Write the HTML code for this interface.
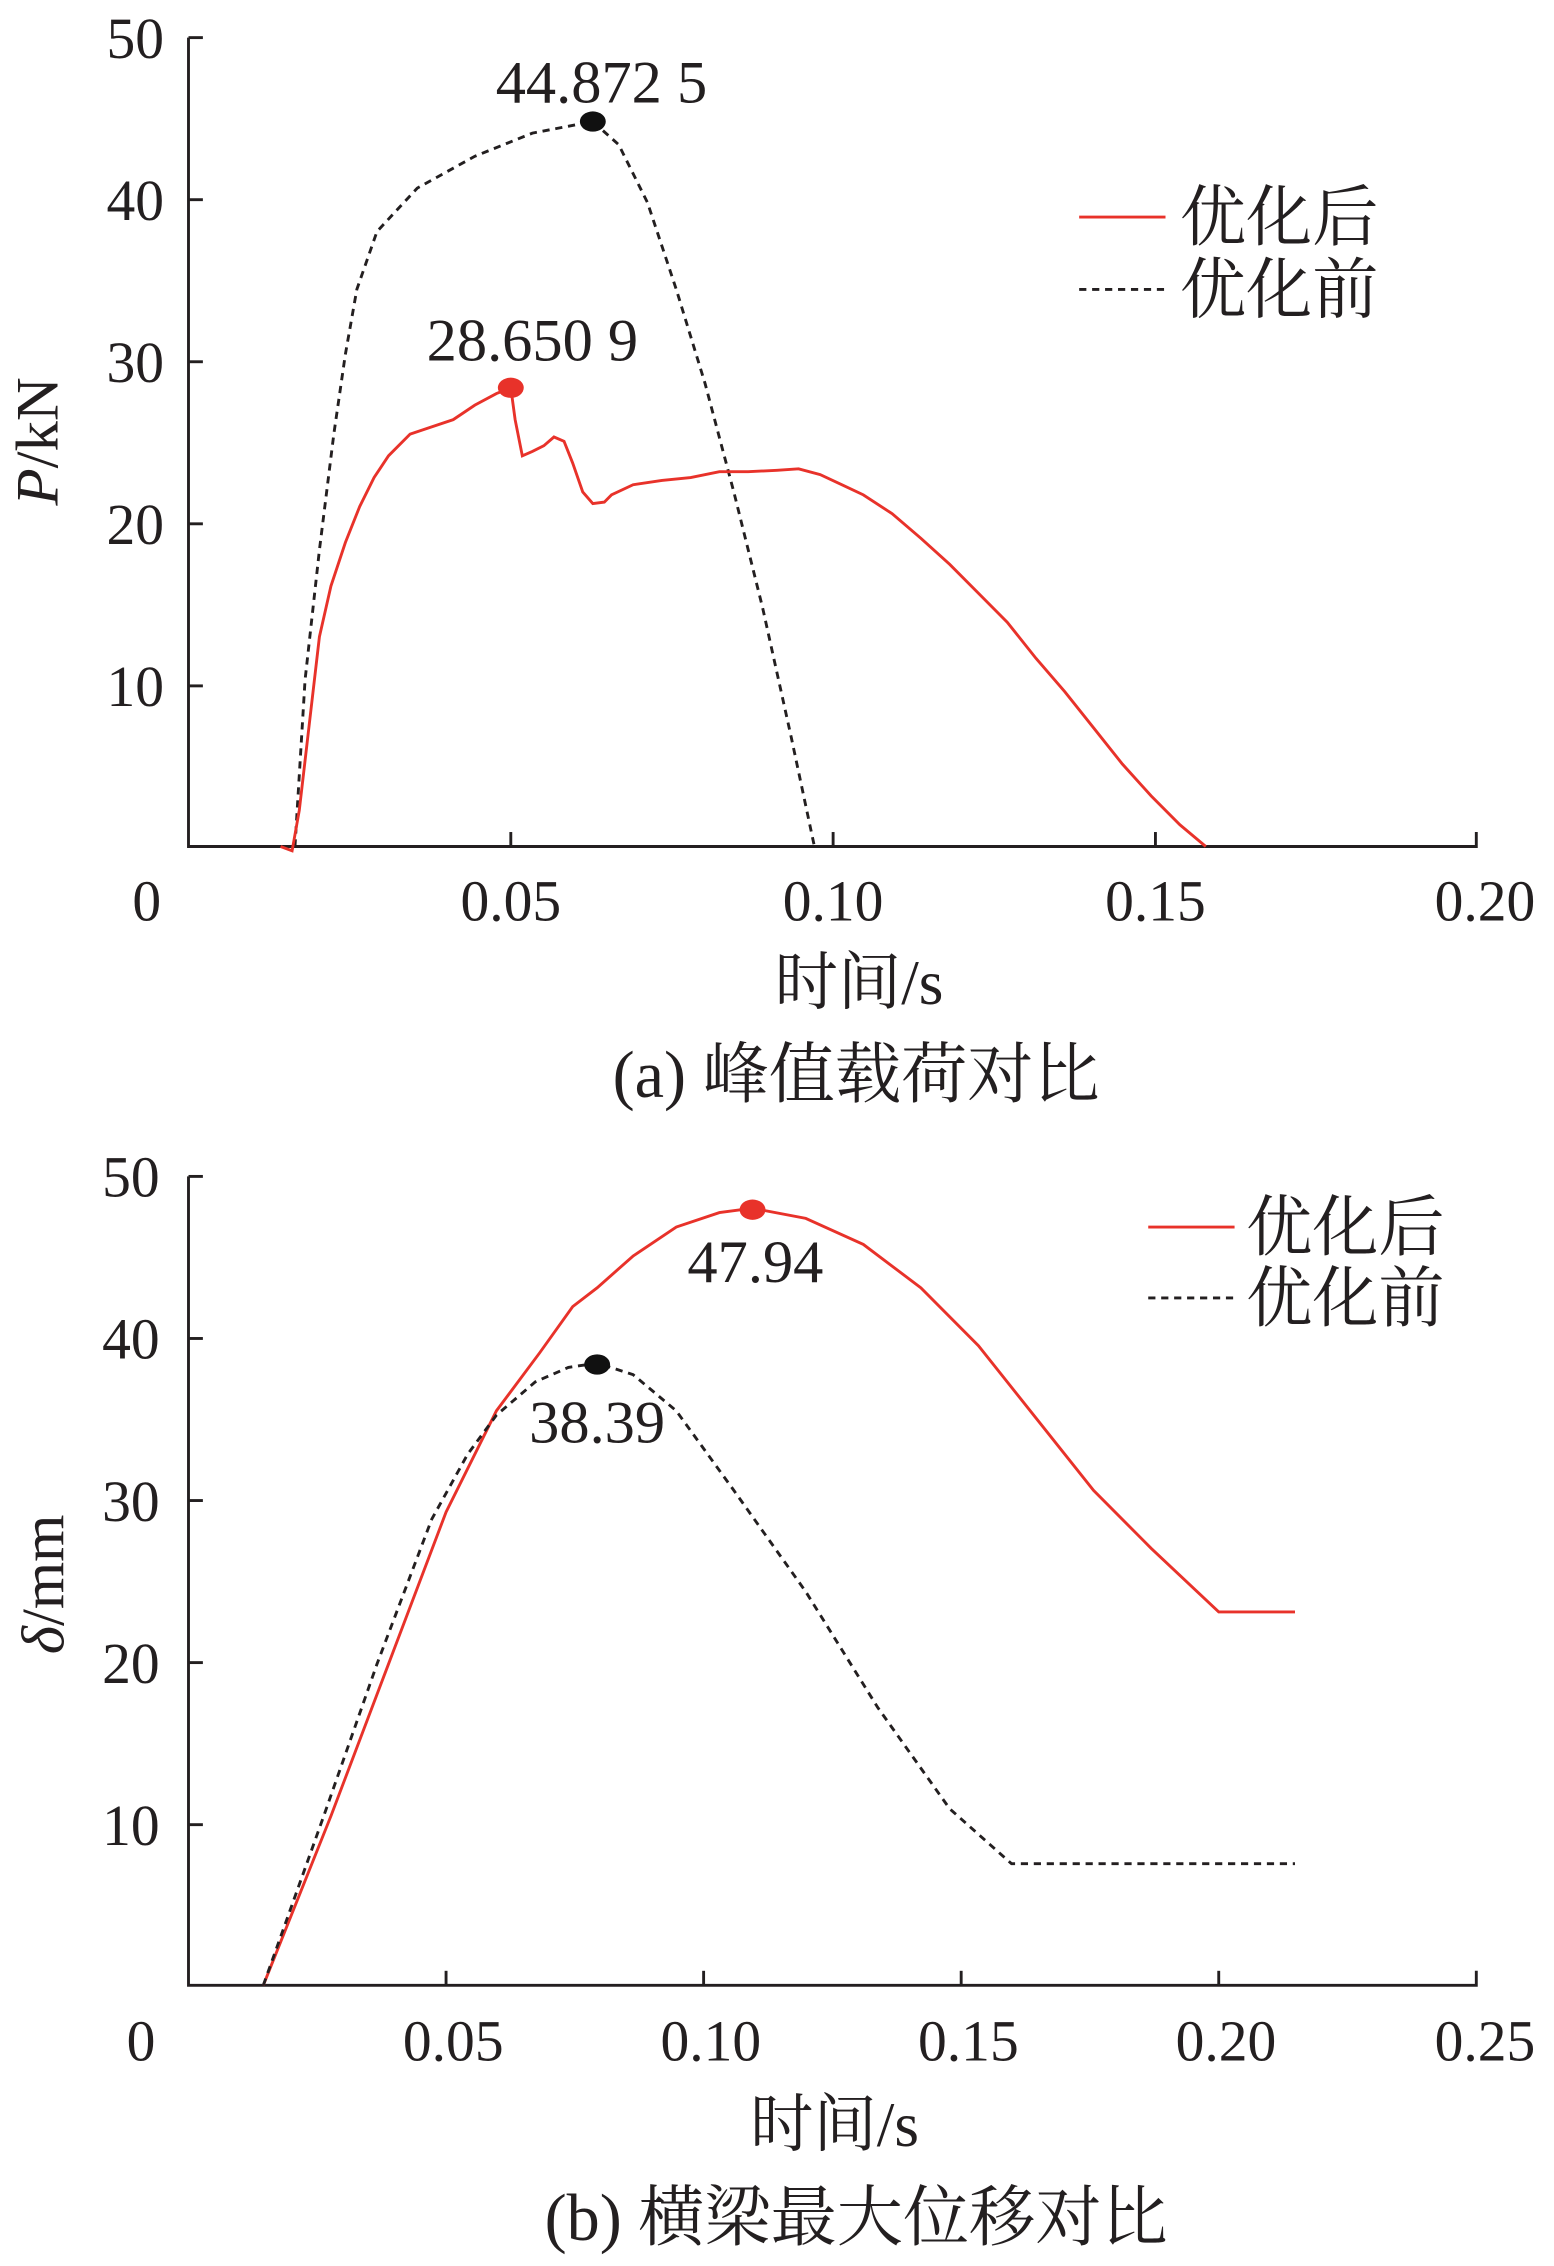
<!DOCTYPE html>
<html><head><meta charset="utf-8"><style>
html,body{margin:0;padding:0;background:#fff;}
svg{display:block;}
text{font-family:"Liberation Serif","Noto Serif CJK SC","Noto Sans CJK SC",serif;fill:#231f20;}
</style></head><body>
<svg width="1554" height="2266" viewBox="0 0 1080 1566" preserveAspectRatio="none" xmlns="http://www.w3.org/2000/svg">
<g stroke="#231f20" stroke-width="2" fill="none">
<polyline points="131,26 131,585 1026,585 1026,575"/>
<line x1="131" y1="26" x2="141" y2="26"/><line x1="131" y1="138" x2="141" y2="138"/><line x1="131" y1="250" x2="141" y2="250"/><line x1="131" y1="362" x2="141" y2="362"/><line x1="131" y1="474" x2="141" y2="474"/>
<line x1="355" y1="585" x2="355" y2="575"/><line x1="579" y1="585" x2="579" y2="575"/><line x1="803" y1="585" x2="803" y2="575"/>
</g>
<g font-size="40" text-anchor="end">
<text x="114" y="40">50</text><text x="114" y="152">40</text><text x="114" y="264">30</text><text x="114" y="376">20</text><text x="114" y="488">10</text>
</g>
<g font-size="40" text-anchor="middle">
<text x="102" y="636">0</text><text x="355" y="636">0.05</text><text x="579" y="636">0.10</text><text x="803" y="636">0.15</text><text x="1032" y="636">0.20</text>
<text x="597" y="694" font-size="44">时间/s</text>
<text x="595" y="758" font-size="46">(a)  峰值载荷对比</text>
</g>
<text transform="translate(40,305) rotate(-90)" font-size="42" text-anchor="middle"><tspan font-style="italic">P</tspan>/kN</text>
<polyline fill="none" stroke="#231f20" stroke-width="2" stroke-dasharray="5,4" points="205,585 212,470 222,380 232,300 240,245 248,200 262,160 290,130 330,108 370,92 412,84 430,100 450,140 470,200 490,265 510,340 530,420 550,510 566,585"/>
<polyline fill="none" stroke="#e8322a" stroke-width="2" points="195,585 203,588 208,560 215,500 222,440 230,405 240,375 250,350 260,330 270,315 285,300 300,295 315,290 330,280 345,272 355,268 358,290 363,315 370,312 378,308 385,302 392,305 398,320 405,340 412,348 420,347 425,342 440,335 460,332 480,330 500,326 520,326 540,325 555,324 570,328 585,335 600,342 620,355 640,372 660,390 680,410 700,430 720,455 740,478 760,503 780,528 800,550 820,570 838,585"/>
<ellipse cx="412" cy="84" rx="9" ry="7" fill="#111"/>
<ellipse cx="355" cy="268" rx="9" ry="7" fill="#e8322a"/>
<text x="418" y="71" font-size="42" text-anchor="middle">44.872 5</text>
<text x="370" y="249" font-size="42" text-anchor="middle">28.650 9</text>
<line x1="750" y1="150" x2="810" y2="150" stroke="#e8322a" stroke-width="2"/>
<line x1="750" y1="200" x2="810" y2="200" stroke="#231f20" stroke-width="2" stroke-dasharray="5,4"/>
<text x="820" y="166" font-size="46">优化后</text>
<text x="820" y="216" font-size="46">优化前</text>

<g stroke="#231f20" stroke-width="2" fill="none">
<polyline points="131,813 131,1372 1026,1372 1026,1362"/>
<line x1="131" y1="813" x2="141" y2="813"/><line x1="131" y1="925" x2="141" y2="925"/><line x1="131" y1="1037" x2="141" y2="1037"/><line x1="131" y1="1149" x2="141" y2="1149"/><line x1="131" y1="1261" x2="141" y2="1261"/>
<line x1="310" y1="1372" x2="310" y2="1362"/><line x1="489" y1="1372" x2="489" y2="1362"/><line x1="668" y1="1372" x2="668" y2="1362"/><line x1="847" y1="1372" x2="847" y2="1362"/>
</g>
<g font-size="40" text-anchor="end">
<text x="111" y="827">50</text><text x="111" y="939">40</text><text x="111" y="1051">30</text><text x="111" y="1163">20</text><text x="111" y="1275">10</text>
</g>
<g font-size="40" text-anchor="middle">
<text x="98" y="1424">0</text><text x="315" y="1424">0.05</text><text x="494" y="1424">0.10</text><text x="673" y="1424">0.15</text><text x="852" y="1424">0.20</text><text x="1032" y="1424">0.25</text>
<text x="580" y="1483" font-size="44">时间/s</text>
<text x="595" y="1548" font-size="46">(b)  横梁最大位移对比</text>
</g>
<text transform="translate(44,1095) rotate(-90)" font-size="42" text-anchor="middle"><tspan font-style="italic">δ</tspan>/mm</text>
<polyline fill="none" stroke="#e8322a" stroke-width="2" points="183,1372 230,1255 270,1150 310,1045 345,975 375,935 398,903 415,890 440,868 470,848 500,838 523,835 560,842 600,860 640,890 680,930 720,980 760,1030 800,1070 847,1114 900,1114"/>
<polyline fill="none" stroke="#231f20" stroke-width="2" stroke-dasharray="5,4" points="183,1372 225,1255 262,1150 300,1050 325,1005 345,978 372,955 395,945 415,942 440,950 470,975 510,1030 560,1100 610,1180 660,1250 703,1288 900,1288"/>
<ellipse cx="523" cy="836" rx="9" ry="7" fill="#e8322a"/>
<ellipse cx="415" cy="943" rx="9" ry="7" fill="#111"/>
<text x="525" y="886" font-size="42" text-anchor="middle">47.94</text>
<text x="415" y="997" font-size="42" text-anchor="middle">38.39</text>
<line x1="798" y1="848" x2="858" y2="848" stroke="#e8322a" stroke-width="2"/>
<line x1="798" y1="897" x2="858" y2="897" stroke="#231f20" stroke-width="2" stroke-dasharray="5,4"/>
<text x="866" y="864" font-size="46">优化后</text>
<text x="866" y="913" font-size="46">优化前</text>
</svg>
</body></html>
